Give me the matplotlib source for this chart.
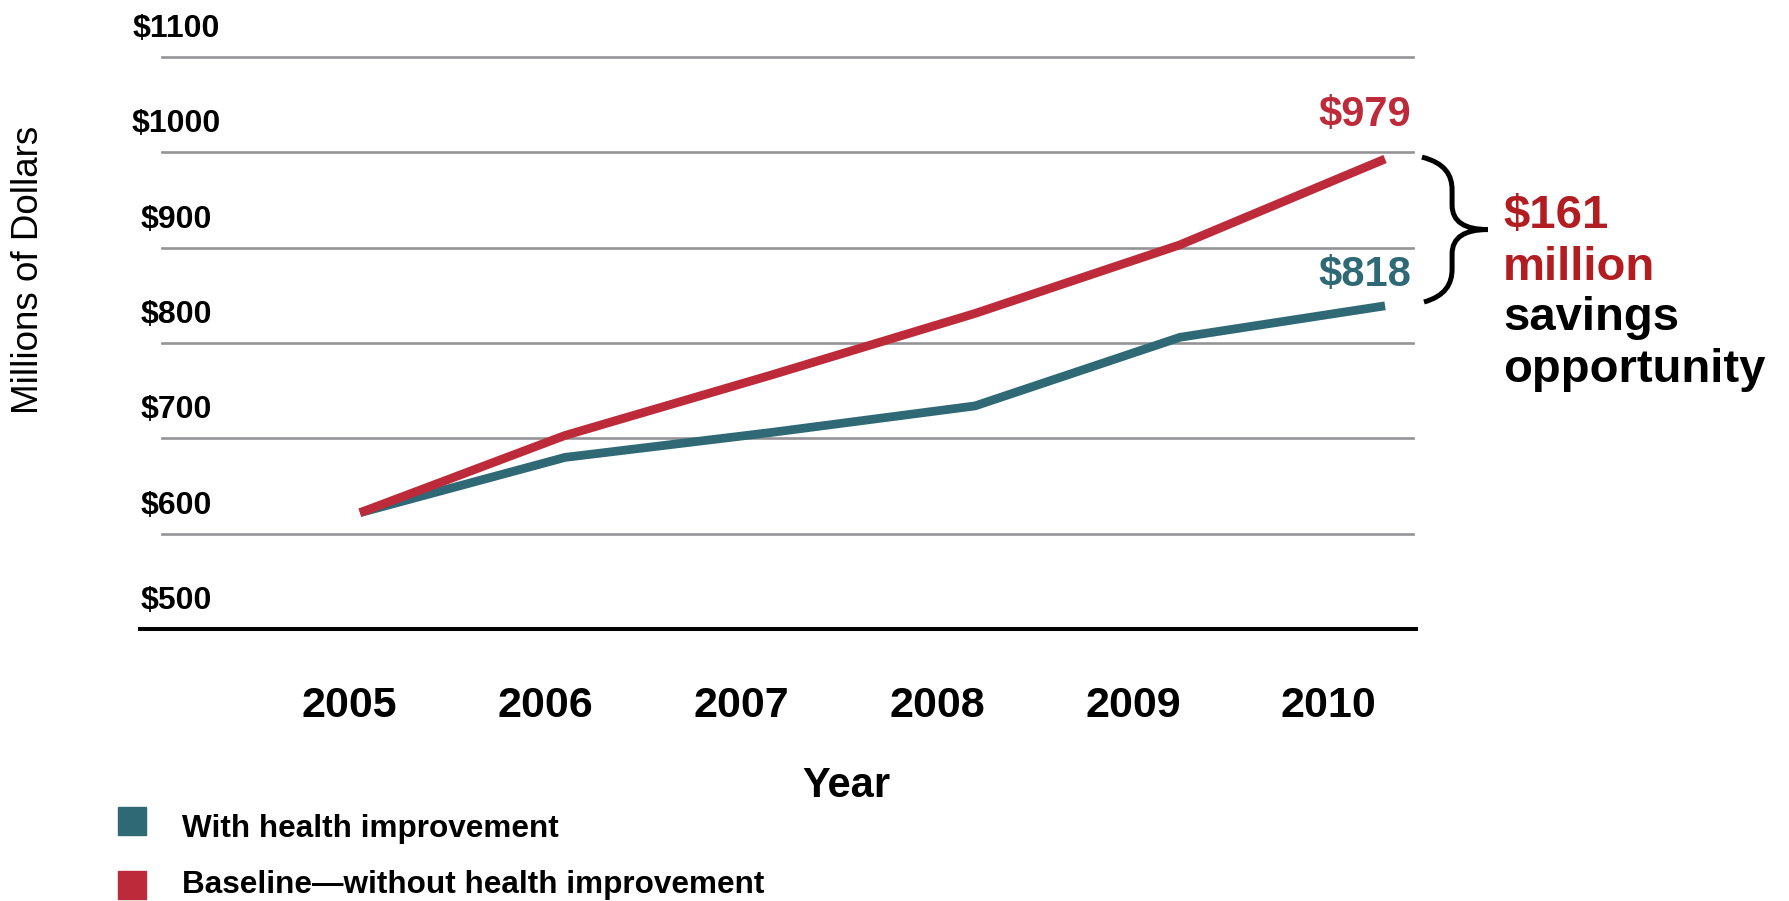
import numpy as np
import matplotlib.pyplot as plt
from matplotlib.path import Path
from matplotlib.patches import PathPatch, Rectangle

plt.rcParams['font.family'] = ['Liberation Sans', 'DejaVu Sans']

# data (millions of dollars)
years = np.array([2005, 2006, 2007, 2008, 2009, 2010])
with_improvement = [622, 680, 706, 734, 806, 839]
baseline = [622, 703, 766, 831, 903, 993]

y_ticks = [500, 600, 700, 800, 900, 1000, 1100]
y_tick_labels = ['$500', '$600', '$700', '$800', '$900', '$1000', '$1100']
year_labels = [str(y) for y in years]
end_labels = ['$818', '$979']
savings_lines = ['$161', 'million', 'savings', 'opportunity']
legend_labels = ['With health improvement', 'Baseline\u2014without health improvement']

teal = '#2f6975'
red = '#bd2b3b'
dark_red = '#b21d22'
grid_grey = '#949498'

W, H = 1790, 901
fig = plt.figure(figsize=(W / 100, H / 100), dpi=100)
ax = fig.add_axes([140 / W, 1 - 629 / H, 1276 / W, 572 / H])
ax.set_xlim(2003.927, 2010.151)
ax.set_ylim(500, 1100)
for s in ax.spines.values():
    s.set_visible(False)
ax.set_yticks([])

# gridlines + heavy baseline
for v in y_ticks[1:]:
    ax.axhline(v, xmin=0.0172, xmax=0.9977, color=grid_grey, lw=1.9, clip_on=False, zorder=1)
ax.axhline(y_ticks[0], color='black', lw=2.9, clip_on=False, zorder=1)

# y labels sit above their gridlines
for v, lab in zip(y_ticks, y_tick_labels):
    ax.annotate(lab, xy=(0.0286, v), xycoords=ax.get_yaxis_transform(),
                xytext=(0, 14.4), textcoords='offset points',
                ha='center', va='baseline', fontsize=23, fontweight='bold')

ax.plot(years, with_improvement, color=teal, lw=6.3, solid_capstyle='butt', clip_on=False, zorder=3)
ax.plot(years, baseline, color=red, lw=6.3, solid_capstyle='butt', clip_on=False, zorder=4)

# year labels are slightly tighter than the data points in the original
ax.set_xticks(years - 0.05 - 0.045 * (years - years[0]), year_labels)
ax.tick_params(axis='x', length=0, pad=40.8, labelsize=31)
for t in ax.get_xticklabels():
    t.set_fontweight('bold')

ax.annotate(end_labels[1], xy=(years[-1], baseline[-1]), xytext=(-14.4, 31.7),
            textcoords='offset points', ha='center', va='center',
            color=red, fontsize=30, fontweight='bold')
ax.annotate(end_labels[0], xy=(years[-1], with_improvement[-1]), xytext=(-14.4, 22.3),
            textcoords='offset points', ha='center', va='center',
            color=teal, fontsize=30, fontweight='bold')

# curly brace between the two end values
top = baseline[-1] + 2
bot = with_improvement[-1] + 4
h = top - bot
x0 = years[-1]
pts = [(0.18, 0), (0.293, 0.041), (0.327, 0.124), (0.327, 0.228),
       (0.327, 0.33),
       (0.327, 0.448), (0.39, 0.5), (0.502, 0.5),
       (0.39, 0.5), (0.327, 0.552), (0.327, 0.67),
       (0.327, 0.772),
       (0.327, 0.876), (0.293, 0.959), (0.19, 1.0)]
verts = [(x0 + dx, top - f * h) for dx, f in pts]
codes = [Path.MOVETO, Path.CURVE4, Path.CURVE4, Path.CURVE4, Path.LINETO,
         Path.CURVE4, Path.CURVE4, Path.CURVE4, Path.CURVE4, Path.CURVE4, Path.CURVE4,
         Path.LINETO, Path.CURVE4, Path.CURVE4, Path.CURVE4]
ax.add_patch(PathPatch(Path(verts, codes), fill=False, lw=3.6, color='black',
                       capstyle='butt', clip_on=False))

for line, col, yb in zip(savings_lines, [dark_red, dark_red, 'black', 'black'],
                         [228, 280, 330, 382]):
    fig.text(1503 / W, 1 - yb / H, line, ha='left', va='baseline',
             fontsize=34, fontweight='bold', color=col)

fig.text(29 / W, 1 - 270 / H, 'Millions of Dollars', rotation=90,
         ha='center', va='center', fontsize=26.5)
fig.text(846 / W, 1 - 786 / H, 'Year', ha='center', va='center',
         fontsize=30, fontweight='bold')

# legend
for lab, col, ys, yb in zip(legend_labels, [teal, red], [807, 871], [837, 893]):
    fig.add_artist(Rectangle((118 / W, 1 - (ys + 28) / H), 28 / W, 28 / H,
                             transform=fig.transFigure, color=col))
    fig.text(182 / W, 1 - yb / H, lab, ha='left', va='baseline',
             fontsize=22.7, fontweight='bold')

fig.savefig('out.png', dpi=100)
